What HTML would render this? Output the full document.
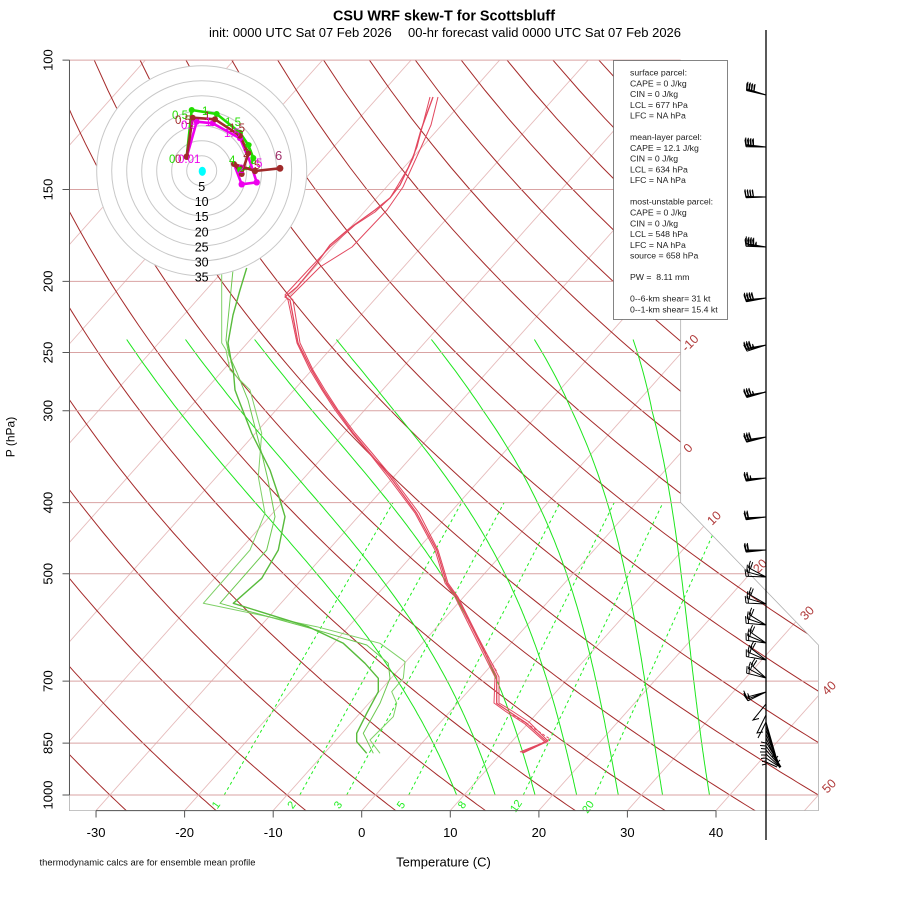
<!DOCTYPE html>
<html><head><meta charset="utf-8"><style>
html,body{margin:0;padding:0;background:#fff;}
svg{display:block;font-family:"Liberation Sans",Arial,sans-serif;}
</style></head><body>
<svg id="s" width="900" height="900" viewBox="0 0 900 900" xmlns="http://www.w3.org/2000/svg">
<rect x="0" y="0" width="900" height="900" fill="#fff"/>
<defs><clipPath id="cp"><polygon points="69.47,60.08 69.47,810.59 818.42,810.59 818.42,645.0 680.66,502.57 680.66,60.08"/></clipPath></defs>
<g id="grid" clip-path="url(#cp)" fill="none"></g>
<g id="isob" stroke="#d9a3a3" stroke-width="1" fill="none">
<path d="M69.47,795H818.42M69.47,743.14H818.42M69.47,681.17H818.42M69.47,573.79H750M69.47,502.57H680.66M69.47,410.73H680.66M69.47,352.55H680.66M69.47,281.32H680.66M69.47,189.52H680.66M69.47,60.08H680.66"/>
</g>
<polyline points="69.47,60.08 69.47,810.59 818.42,810.59 818.42,645.0 680.66,502.57 680.66,60.08" fill="none" stroke="#b0b0b0" stroke-width="0.8"/>

<!-- isotherm labels -->
<g fill="#b03a3a" font-size="12.5" text-anchor="middle">
<text transform="translate(693,346) rotate(-45)">-10</text>
<text transform="translate(691,451) rotate(-45)">0</text>
<text transform="translate(717,521) rotate(-45)">10</text>
<text transform="translate(763,569) rotate(-45)">20</text>
<text transform="translate(810,616) rotate(-45)">30</text>
<text transform="translate(832,691) rotate(-45)">40</text>
<text transform="translate(832,789) rotate(-45)">50</text>
</g>
<!-- mixing ratio labels -->
<g fill="#22ee22" font-size="11" text-anchor="middle">
<text transform="translate(219,807) rotate(-55)">1</text>
<text transform="translate(294.5,807) rotate(-55)">2</text>
<text transform="translate(341,807) rotate(-55)">3</text>
<text transform="translate(404,807) rotate(-55)">5</text>
<text transform="translate(465,807) rotate(-55)">8</text>
<text transform="translate(519,808) rotate(-55)">12</text>
<text transform="translate(591,809) rotate(-55)">20</text>
</g>

<!-- dewpoint -->
<g fill="none" stroke-linejoin="round">
<polyline stroke="#7fd067" stroke-width="1" points="221.7,270 221.7,343 226,350 230,370 250,390 261.7,433.3 258.3,476.7 265,513.3 250,550 203.3,603.3 316.7,626.7 380,643.3 405,661.7 403.3,678.3 391.7,691.7 396.7,703.3 393.3,716.7 370,740 380,753.3"/>
<polyline stroke="#6cc850" stroke-width="1" points="233,270 226,340 229,355 236.7,372 248,400 261.7,453.3 268,480 275,516.7 266.7,550 220,603.3 316.7,630 366.7,645 388.3,663.3 390,678.3 380,703.3 363.3,733.3 373.3,753.3"/>
<polyline stroke="#58bb3c" stroke-width="1.4" points="246.7,268 240,290 233,315 228,343 231,360 233.3,370 235,390 240,403.3 251.7,433.3 261.7,453.3 270,470 280,500 285,516.7 278.3,550 261.7,578.3 233.3,603.3 308.3,626.7 343.3,643.3 365,663.3 378.3,678.3 378.3,691.7 366.7,713.3 356.7,733.3 356.7,741.7 366.7,753.3"/>
</g>
<!-- temperature -->
<g fill="none" stroke="#e2485f" stroke-width="1" stroke-linejoin="round">
<polyline points="438,97 431,125 423,143 413,165 403,187 387,210 352,247 320,267 290,297 293,300 300,343 313,370 325,390 338,410 355,433 372,453 392,477 419,513 438,550 448,583 458,597 478,637 499,677 499,703 509,709 529,722 548,741 523,753"/>
<polyline points="430,97 417,147 408,168 398,185 390,198 375,212 355,225 330,247 310,268 285,295 288,300 297,343 310,370 322,390 335,410 352,433 369,453 388,477 415,513 435,550 445,583 455,597 475,637 495,677 494,703 505,711 525,724 545,742 520,752"/>
<polyline stroke-width="1.3" points="433,97 421,130 413,158 400,185 390,198 375,210 350,228 330,245 317,263 297,287 285,297 290,300 298,343 311.7,370 323.3,390 336.7,410 353.3,433.3 370,453.3 390,476.7 416.7,513.3 436.7,550 446.7,583.3 456.7,596.7 476.7,636.7 496.7,676.7 496.7,703.3 506.7,710 526.7,723.3 546.7,741.7 521.7,752.7"/>
<path stroke-dasharray="3,2" d="M466,616L479,641L497,672M513,715L532,727L550,739L528,750"/>
</g>

<!-- hodograph -->
<g>
<circle cx="201.7" cy="170.8" r="105.5" fill="#fff" stroke="none"/>
<g fill="none" stroke="#c8c8c8" stroke-width="1">
<circle cx="201.7" cy="170.8" r="15"/><circle cx="201.7" cy="170.8" r="30"/><circle cx="201.7" cy="170.8" r="45"/><circle cx="201.7" cy="170.8" r="60"/><circle cx="201.7" cy="170.8" r="75"/><circle cx="201.7" cy="170.8" r="90"/><circle cx="201.7" cy="170.8" r="105"/>
</g>
<g font-size="12.5" text-anchor="middle" fill="#000">
<text x="201.7" y="191">5</text><text x="201.7" y="206">10</text><text x="201.7" y="221">15</text><text x="201.7" y="236.5">20</text><text x="201.7" y="251.5">25</text><text x="201.7" y="266.5">30</text><text x="201.7" y="281.5">35</text>
</g>
<ellipse cx="202.3" cy="171.3" rx="3.6" ry="4.6" fill="#00ffff"/>
<g fill="none" stroke-width="2.6" stroke-linejoin="round">
<polyline stroke="#22dd00" points="186.7,156.7 191.7,110 216.7,114 240,132.7 248.3,145 253.3,158 250,168 240,170 234,162"/>
<polyline stroke="#ee00ee" points="186.7,157 196.7,121.7 212.7,123.3 240,138.3 250,161.7 256.7,182.3 241.7,184.3 235,166.7"/>
<polyline stroke="#a02a2a" points="186.7,156.7 192.7,117.7 215,119.3 240,135.7 248.3,153.3 241.7,174 234,164 255,171 280,168.3"/>
</g>
<g fill="#22dd00"><circle cx="191.7" cy="110" r="3"/><circle cx="216.7" cy="114" r="3"/><circle cx="240" cy="132.7" r="3"/><circle cx="248.3" cy="145" r="3"/><circle cx="253.3" cy="158" r="3"/><circle cx="240" cy="170" r="3"/></g>
<g fill="#ee00ee"><circle cx="196.7" cy="121.7" r="3"/><circle cx="212.7" cy="123.3" r="3"/><circle cx="240" cy="138.3" r="3"/><circle cx="256.7" cy="182.3" r="3.2"/><circle cx="241.7" cy="184.3" r="3.2"/><circle cx="186.7" cy="157" r="3"/></g>
<g fill="#a02a2a"><circle cx="186.7" cy="156.7" r="3.2"/><circle cx="192.7" cy="117.7" r="3"/><circle cx="215" cy="119.3" r="3"/><circle cx="240" cy="135.7" r="3"/><circle cx="248.3" cy="153.3" r="3"/><circle cx="241.7" cy="174" r="3"/><circle cx="234" cy="164" r="3"/><circle cx="255" cy="171" r="3.2"/><circle cx="280" cy="168.3" r="3.4"/></g>
<g font-size="11.5">
<text x="172" y="119" fill="#22dd00">0.5</text><text x="202" y="115" fill="#22dd00">1</text><text x="225" y="126" fill="#22dd00">1.5</text><text x="246" y="151" fill="#22dd00">2</text><text x="250" y="164" fill="#22dd00">3</text><text x="229" y="164" fill="#22dd00">4</text><text x="169" y="163" fill="#22dd00">0</text>
<text x="175" y="124" fill="#a02a2a">0.5</text><text x="204" y="120" fill="#a02a2a">1</text><text x="229" y="132" fill="#a02a2a">1.5</text><text x="243" y="157" fill="#a02a2a">2</text><text x="254" y="169" fill="#a02a2a">5</text><text x="175" y="163" fill="#a02a2a">0</text>
<text x="181" y="129" fill="#ee00ee">0.5</text><text x="205" y="126" fill="#ee00ee">1</text><text x="224" y="137" fill="#ee00ee">1.5</text><text x="238" y="173" fill="#ee00ee">2</text><text x="256" y="167" fill="#ee00ee">5</text><text x="178" y="163" fill="#ee00ee">0.01</text>
<text x="275" y="160" fill="#a0306a" font-size="13">6</text>
</g>
</g>

<!-- stats box -->
<rect x="613.5" y="60.5" width="114" height="259" fill="#fff" stroke="#666" stroke-width="0.8"/>
<g font-size="8.7" fill="#222">
<text x="630" y="75.5">surface parcel:</text>
<text x="630" y="86.3">CAPE = 0 J/kg</text>
<text x="630" y="97">CIN = 0 J/kg</text>
<text x="630" y="107.8">LCL = 677 hPa</text>
<text x="630" y="118.6">LFC = NA hPa</text>
<text x="630" y="140.1">mean-layer parcel:</text>
<text x="630" y="150.9">CAPE = 12.1 J/kg</text>
<text x="630" y="161.7">CIN = 0 J/kg</text>
<text x="630" y="172.4">LCL = 634 hPa</text>
<text x="630" y="183.2">LFC = NA hPa</text>
<text x="630" y="204.7">most-unstable parcel:</text>
<text x="630" y="215.5">CAPE = 0 J/kg</text>
<text x="630" y="226.3">CIN = 0 J/kg</text>
<text x="630" y="237.1">LCL = 548 hPa</text>
<text x="630" y="247.8">LFC = NA hPa</text>
<text x="630" y="258.6">source = 658 hPa</text>
<text x="630" y="280.1" xml:space="preserve">PW =  8.11 mm</text>
<text x="630" y="301.7">0--6-km shear= 31 kt</text>
<text x="630" y="312.4">0--1-km shear= 15.4 kt</text>
</g>

<!-- barb axis -->
<line x1="766" y1="30" x2="766" y2="840" stroke="#000" stroke-width="1.3"/>
<g id="barbs" stroke="#000" stroke-width="1" fill="none">
<path d="M766,704L753,720L759,718.5M766,715L757,733L763,732M766,722L758,738"/>
<path d="M766,722L779,767M766,726L779,767M766,730L780,767M766,734L780,767M766,738L780,768M766,742L781,767M766,746L781,767M766,750L780,766M766,754L779,766M766,758L778,766M766,762L777,767"/>
<path d="M766,743L761,742M766,746L760,745.5M766,749L761,748.5M766,752L760,752M766,755L761,755M766,758L761,758.5M766,761L762,761.5M766,764L762,765M772,757L775,753M775,760L778,756M777,763L780,760"/>
</g>

<!-- axes -->
<g stroke="#555" stroke-width="1" fill="none">
<path d="M69.47,60.08V795"/>
<path d="M62.5,795H69.47M62.5,743.14H69.47M62.5,681.17H69.47M62.5,573.79H69.47M62.5,502.57H69.47M62.5,410.73H69.47M62.5,352.55H69.47M62.5,281.32H69.47M62.5,189.52H69.47M62.5,60.08H69.47"/>
<path d="M96.04,810.59H716"/>
<path d="M96.04,810.59V817.5M184.6,810.59V817.5M273.2,810.59V817.5M361.7,810.59V817.5M450.3,810.59V817.5M538.9,810.59V817.5M627.4,810.59V817.5M716,810.59V817.5"/>
</g>
<g font-size="13" fill="#000" text-anchor="middle">
<text transform="translate(52.5,795) rotate(-90)">1000</text>
<text transform="translate(52.5,743.14) rotate(-90)">850</text>
<text transform="translate(52.5,681.17) rotate(-90)">700</text>
<text transform="translate(52.5,573.79) rotate(-90)">500</text>
<text transform="translate(52.5,502.57) rotate(-90)">400</text>
<text transform="translate(52.5,410.73) rotate(-90)">300</text>
<text transform="translate(52.5,352.55) rotate(-90)">250</text>
<text transform="translate(52.5,281.32) rotate(-90)">200</text>
<text transform="translate(52.5,189.52) rotate(-90)">150</text>
<text transform="translate(52.5,60.08) rotate(-90)">100</text>
<text x="96.04" y="837">-30</text><text x="184.6" y="837">-20</text><text x="273.2" y="837">-10</text><text x="361.7" y="837">0</text><text x="450.3" y="837">10</text><text x="538.9" y="837">20</text><text x="627.4" y="837">30</text><text x="716" y="837">40</text>
<text x="443.5" y="866.5">Temperature (C)</text>
<text transform="translate(14.5,437) rotate(-90)" font-size="12">P (hPa)</text>
</g>
<text x="39.5" y="865.7" font-size="9" fill="#111" textLength="216" lengthAdjust="spacingAndGlyphs">thermodynamic calcs are for ensemble mean profile</text>
<text x="444" y="20.7" font-size="14.5" font-weight="bold" text-anchor="middle" textLength="222" lengthAdjust="spacingAndGlyphs">CSU WRF skew-T for Scottsbluff</text>
<text x="209" y="36.8" font-size="12.5" textLength="182.7" lengthAdjust="spacingAndGlyphs">init: 0000 UTC Sat 07 Feb 2026</text>
<text x="408" y="36.8" font-size="12.5" textLength="273" lengthAdjust="spacingAndGlyphs">00-hr forecast valid 0000 UTC Sat 07 Feb 2026</text>
</svg>
<script>
(function(){
const NS="http://www.w3.org/2000/svg";
const G=document.getElementById('grid');
function el(tag,attrs,parent){const e=document.createElementNS(NS,tag);for(const k in attrs)e.setAttribute(k,attrs[k]);(parent||G).appendChild(e);return e;}
function px(xd){return 96+(xd+17.05)*16.4;}
function yd(p){return 132.182-44.061*Math.log10(p);}
function py(y){return 795-y*16.68;}
function pt(T,p){const y=yd(p);return [px(0.54*T+0.90692*y),py(y)];}
function poly(a){return a.map((q,i)=>(i?'L':'M')+q[0].toFixed(1)+','+q[1].toFixed(1)).join('');}
// isotherms
let d='';
for(let T=-100;T<=50;T+=10){d+=poly([pt(T,1100),pt(T,90)]);}
el('path',{d:d,stroke:'#e6bcbc','stroke-width':0.9,fill:'none'});
// dry adiabats
d='';
for(let th=-30;th<=170;th+=10){const a=[];for(let p=1100;p>=90;p-=10){a.push(pt((th+273.15)*Math.pow(p/1000,0.28571)-273.15,p));}d+=poly(a);}
el('path',{d:d,stroke:'#a52a2a','stroke-width':1,fill:'none'});
// mixing ratio
function tmr(w,p){const c1=0.0498646455,c2=2.4082965,c3=7.07475,c4=38.9114,c5=0.0915,c6=1.2035;const x=Math.log10(w*p/(622+w));return Math.pow(10,c1*x+c2)-c3+c4*Math.pow(Math.pow(10,c5*x)-c6,2)-273.15;}
d='';
[20,12,8,5,3,2,1].forEach(w=>{d+=poly([pt(tmr(w,1000),1000),pt(tmr(w,400),400)]);});
el('path',{d:d,stroke:'#22ee22','stroke-width':1,'stroke-dasharray':'3,3',fill:'none'});
// moist adiabats
const thw=[8,12,16,20,24,28,32],dd=[1.15,1.5,2.0,2.7,3.4,4.4,5.7];
function esat(Tc){return 6.112*Math.exp(17.67*Tc/(Tc+243.5));}
function dTdp(T,p){const e=esat(T-273.15);const rs=0.622*e/(p-e);return (287.04*T+2.501e6*rs)/(p*(1005.7+2.501e6*2.501e6*rs*0.622/(287.04*T*T)));}
d='';
thw.forEach((t0,i)=>{let T=t0+273.15,p=1000;const a=[];const add=()=>{const c=dd[i]*Math.max(0,(p-300)/700);a.push(pt(T-273.15+c,p));};add();
 while(p>240.01){const h=-5;const k1=dTdp(T,p);const k2=dTdp(T+k1*h/2,p+h/2);T+=k2*h;p+=h;add();}
 d+=poly(a);});
el('path',{d:d,stroke:'#1ee61e','stroke-width':1,fill:'none'});
// barbs
const B=document.getElementById('barbs');
function barb(y,dir,spd,L){L=L||20;const a=dir*Math.PI/180;const sx=Math.sin(a),sy=-Math.cos(a);const bx=766,by=y;const tx=bx+sx*L,ty=by+sy*L;
 let s='M'+bx+','+by+'L'+tx.toFixed(1)+','+ty.toFixed(1);const fx=-sy,fy=sx;let rem=Math.round(spd/5)*5,pos=0;
 while(rem>=10){const ox=tx-sx*pos,oy=ty-sy*pos;s+='M'+ox.toFixed(1)+','+oy.toFixed(1)+'l'+(fx*7+sx*1.2).toFixed(1)+','+(fy*7+sy*1.2).toFixed(1);rem-=10;pos+=2.5;}
 if(rem>=5){if(pos==0)pos=2.5;const ox=tx-sx*pos,oy=ty-sy*pos;s+='M'+ox.toFixed(1)+','+oy.toFixed(1)+'l'+(fx*3.5+sx*0.6).toFixed(1)+','+(fy*3.5+sy*0.6).toFixed(1);}
 d+=s;}
d='';
const lv=[[95,[283,285,288],40],[147,[271,274,277],40],[197,[268,270,272],40],[247,[272,276,280],45],[298,[259,262,265],40],
[345,[252,256,260],35],[392,[254,257,260],35],[437,[255,258,262],30],[478,[261,264,267],25],[517,[262,265,268],20],[550,[264,267,270],20],
[577,[298,285,272],20],[604,[300,287,273],20],[625,[302,289,275],20],[643,[305,292,278],20],[660,[308,294,280],20],[678,[312,298,284],20]];
lv.forEach(l=>l[1].forEach(dr=>barb(l[0],dr,l[2])));
[244,249,255].forEach(dr=>barb(692,dr,15,20));
el('path',{d:d},B);
})();
</script>
</body></html>
